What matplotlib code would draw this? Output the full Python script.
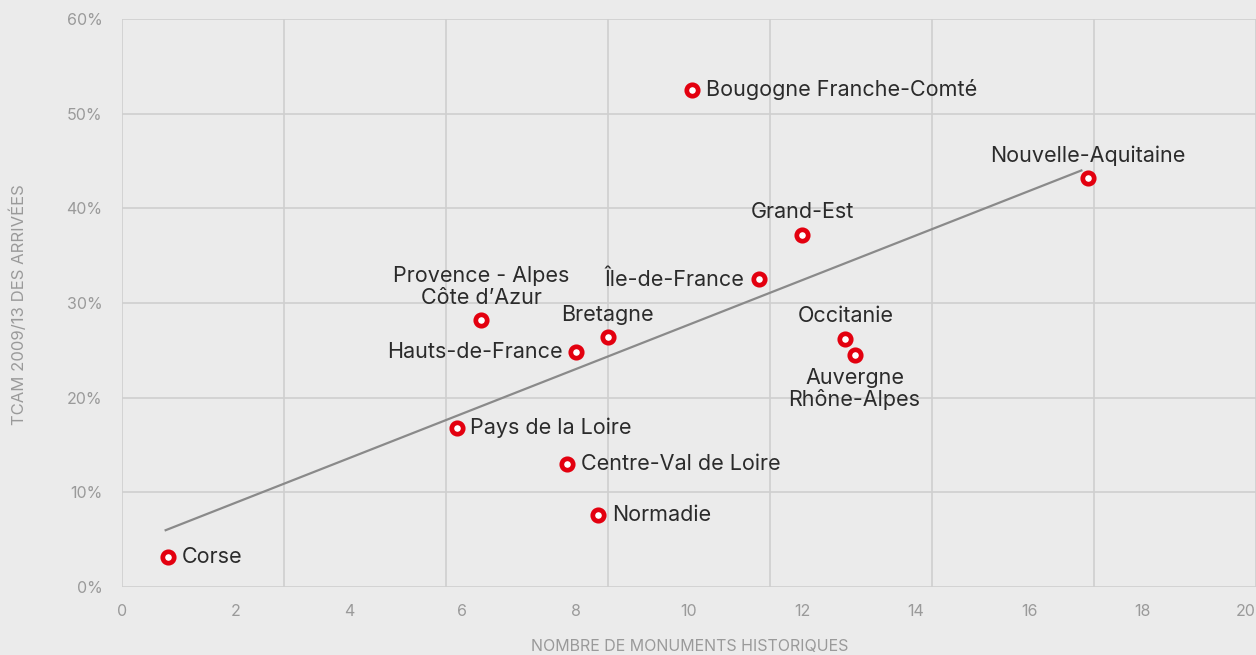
import matplotlib.pyplot as plt

# Régions : nombre de monuments historiques (milliers) vs TCAM 2009/13 des arrivées
regions = ["Corse", "Pays de la Loire", "Centre-Val de Loire", "Normadie",
           "Hauts-de-France", "Provence - Alpes\nCôte d’Azur", "Bretagne",
           "Bougogne Franche-Comté", "Île-de-France", "Grand-Est", "Occitanie",
           "Auvergne\nRhône-Alpes", "Nouvelle-Aquitaine"]
monuments = [0.81, 5.9, 7.85, 8.4, 8.01, 6.34, 8.57, 10.05, 11.23, 12.0, 12.76, 12.92, 17.04]
tcam = [3.2, 16.8, 13.0, 7.6, 24.8, 28.2, 26.4, 52.5, 32.5, 37.2, 26.2, 24.5, 43.2]
# placement des étiquettes
placement = ["right", "right", "right", "right", "left", "above", "above",
             "right", "left", "above", "above", "below", "above"]

trend_x = [0.77, 16.92]
trend_y = [6.0, 44.0]

x_ticks = list(range(0, 21, 2))
y_ticks = [0, 10, 20, 30, 40, 50, 60]
grid_x = [i * 20 / 7 for i in range(8)]

bg = "#ebebeb"
red = "#e3000f"

plt.rcParams['font.family'] = ['Inter', 'DejaVu Sans']

fig = plt.figure(figsize=(12.56, 6.55), dpi=100, facecolor=bg)
ax = fig.add_axes([122 / 1256, 1 - 587 / 655, 1 - 122 / 1256, (587 - 19) / 655])
ax.set_facecolor(bg)

ax.set_xlim(0, 20)
ax.set_ylim(0, 60)

# grille
for gx in grid_x:
    ax.axvline(gx, color="#cfcfcf", lw=1.2, zorder=0)
for gy in y_ticks:
    ax.axhline(gy, color="#cfcfcf", lw=1.2, zorder=0)
for s in ax.spines.values():
    s.set_visible(False)

ax.set_xticks(x_ticks)
ax.set_yticks(y_ticks)
ax.set_yticklabels([f"{v}%" for v in y_ticks])
ax.tick_params(length=0, colors="#9a9a9a", labelsize=11.5)
ax.tick_params(axis="x", pad=12)
ax.tick_params(axis="y", pad=14)
ax.get_xticklabels()[-1].set_horizontalalignment("right")

ax.plot(trend_x, trend_y, color="#8a8a8a", lw=1.6, zorder=2)

ax.plot(monuments, tcam, linestyle="none", marker="o", ms=8.2, mew=3.4,
        mec=red, mfc="white", zorder=3)

for name, x, y, p in zip(regions, monuments, tcam, placement):
    kw = dict(fontsize=15.5, color="#2b2b2b", zorder=4)
    if p == "right":
        ax.annotate(name, (x, y), xytext=(10, 0), textcoords="offset points",
                    ha="left", va="center", **kw)
    elif p == "left":
        ax.annotate(name, (x, y), xytext=(-10, 0), textcoords="offset points",
                    ha="right", va="center", **kw)
    elif p == "above":
        ax.annotate(name, (x, y), xytext=(0, 9), textcoords="offset points",
                    ha="center", va="bottom", linespacing=1.1, **kw)
    else:
        ax.annotate(name, (x, y), xytext=(0, -9), textcoords="offset points",
                    ha="center", va="top", linespacing=1.1, **kw)

fig.text(690 / 1256, 1 - 646 / 655, "NOMBRE DE MONUMENTS HISTORIQUES",
         ha="center", va="center", fontsize=11.5, color="#9a9a9a")
fig.text(18 / 1256, 1 - 305 / 655, "TCAM 2009/13 DES ARRIVÉES", rotation=90,
         ha="center", va="center", fontsize=12, color="#9a9a9a")

fig.savefig("out.png", dpi=100, facecolor=bg)
